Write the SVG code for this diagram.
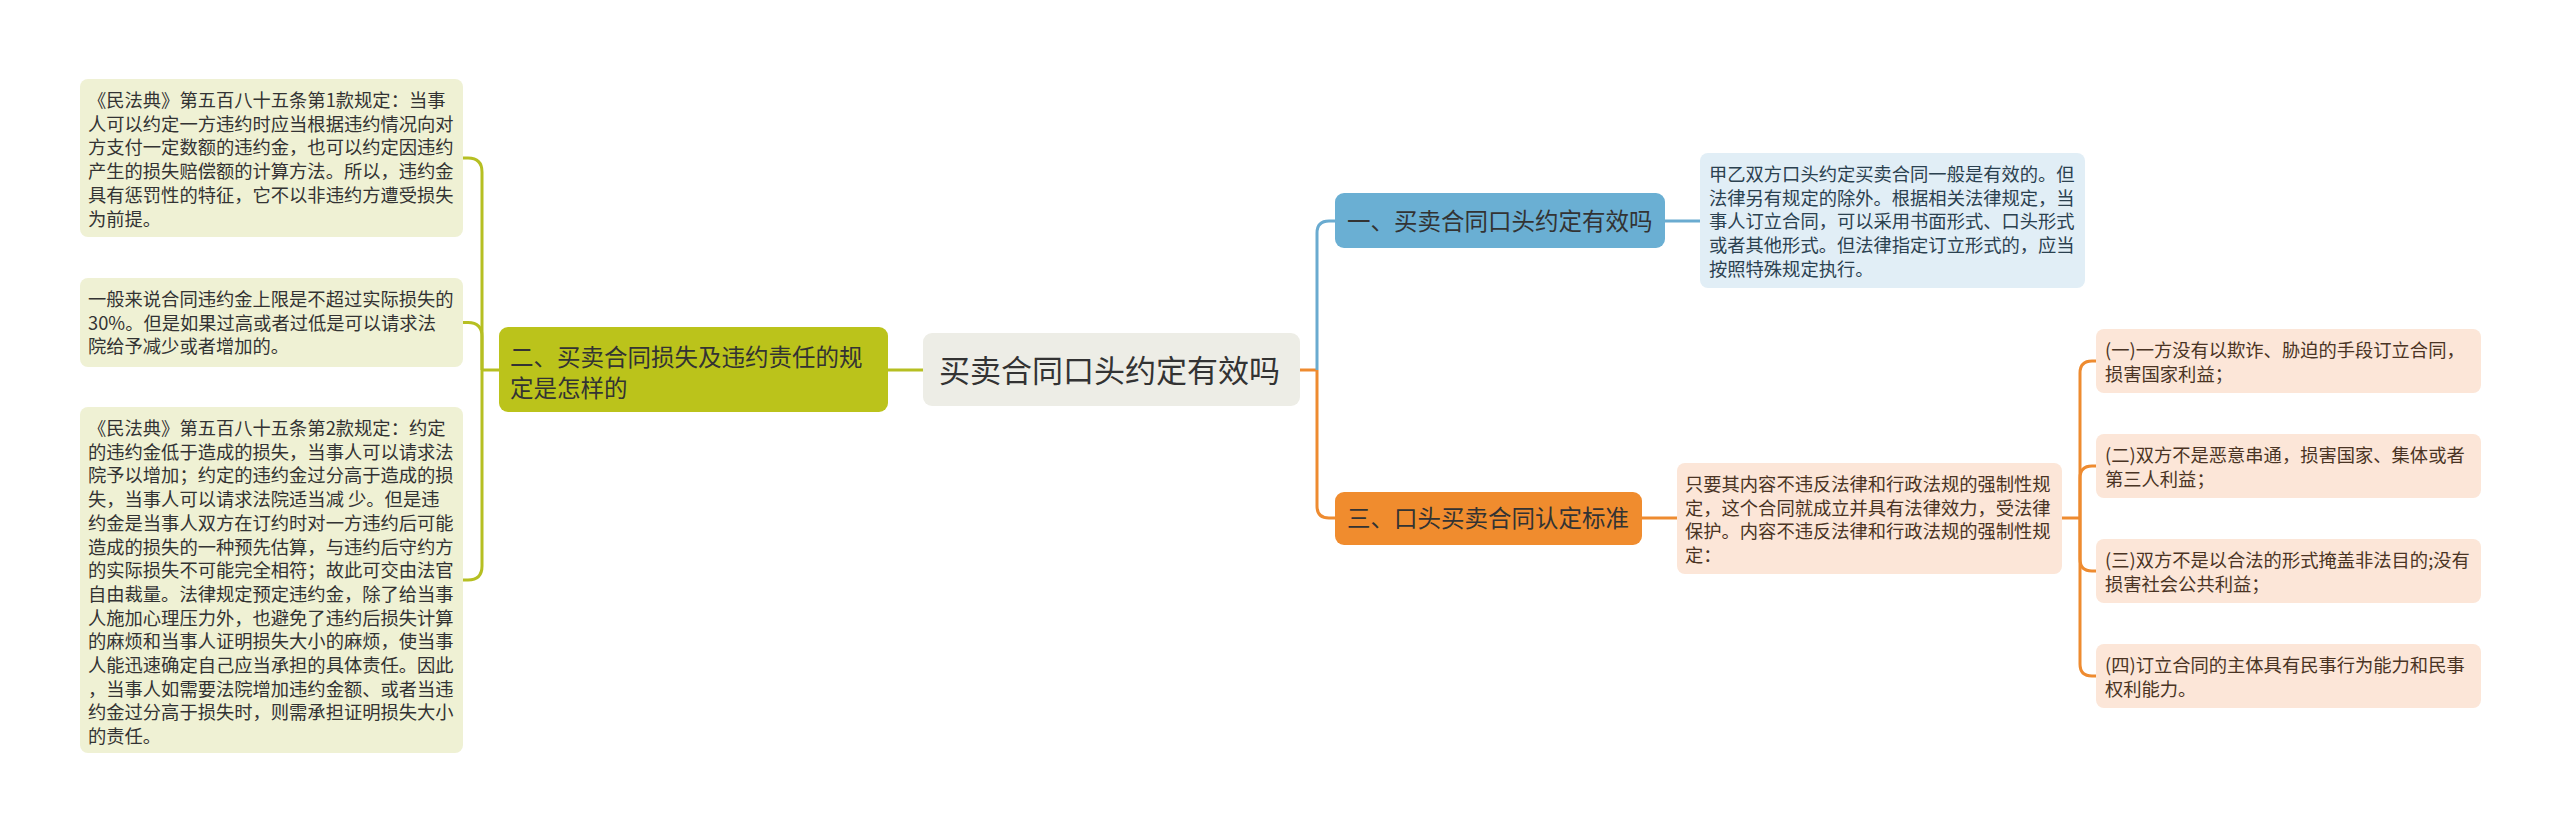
<svg xmlns="http://www.w3.org/2000/svg" width="2560" height="834" viewBox="0 0 2560 834">
<style>
text{font-family:"Noto Sans CJK SC","Noto Sans",sans-serif;fill:#333}
.leaf{font-size:18.3px}
.br{font-size:23.5px}
.root{font-size:31px}
.lg{fill:#EFF1D4}
.lb{fill:#E1EEF6}
.lo{fill:#FCE6D8}
.cg{fill:none;stroke:#B6BF22;stroke-width:3}
.cb{fill:none;stroke:#6AABD0;stroke-width:3}
.co{fill:none;stroke:#EE8B30;stroke-width:3}
.tb{fill:#2b4150}
.to{fill:#4a3424}
</style>
<rect width="2560" height="834" fill="#ffffff"/>
<g id="connectors">
<path class="cg" d="M923 370H888"/>
<path class="cg" d="M499 370H482"/>
<path class="cg" d="M482 370V172Q482 158 468 158H463"/>
<path class="cg" d="M482 370V336.5Q482 322.5 468 322.5H463"/>
<path class="cg" d="M482 370V566Q482 580 468 580H463"/>
<path class="co" d="M1300 370H1317"/>
<path class="cb" d="M1317 370V233Q1317 221 1329 221H1335"/>
<path class="co" d="M1317 370V506Q1317 518 1329 518H1335"/>
<path class="cb" d="M1665 221H1700"/>
<path class="co" d="M1642 518H1677"/>
<path class="co" d="M2062 518H2080"/>
<path class="co" d="M2080 518V373Q2080 361 2092 361H2096"/>
<path class="co" d="M2080 518V478Q2080 466 2092 466H2096"/>
<path class="co" d="M2080 518V559Q2080 571 2092 571H2096"/>
<path class="co" d="M2080 518V664Q2080 676 2092 676H2096"/>
</g>
<g id="root">
<rect x="923" y="333" width="377" height="73" rx="9" fill="#EDEDE6"/>
<text class="root" x="939" y="381.5">买卖合同口头约定有效吗</text>
</g>
<g id="branch2">
<rect x="499" y="327" width="389" height="85" rx="9" fill="#BBC31B"/>
<text class="br" x="510" y="365.5">二、买卖合同损失及违约责任的规<tspan x="510" dy="31">定是怎样的</tspan></text>
</g>
<g id="leaf2a">
<rect class="lg" x="80" y="79" width="383" height="158" rx="8"/>
<text class="leaf" x="88" y="107">《民法典》第五百八十五条第1款规定：当事<tspan x="88" dy="23.7">人可以约定一方违约时应当根据违约情况向对</tspan><tspan x="88" dy="23.7">方支付一定数额的违约金，也可以约定因违约</tspan><tspan x="88" dy="23.7">产生的损失赔偿额的计算方法。所以，违约金</tspan><tspan x="88" dy="23.7">具有惩罚性的特征，它不以非违约方遭受损失</tspan><tspan x="88" dy="23.7">为前提。</tspan></text>
</g>
<g id="leaf2b">
<rect class="lg" x="80" y="278" width="383" height="89" rx="8"/>
<text class="leaf" x="88" y="306">一般来说合同违约金上限是不超过实际损失的<tspan x="88" dy="23.7">30%。但是如果过高或者过低是可以请求法</tspan><tspan x="88" dy="23.7">院给予减少或者增加的。</tspan></text>
</g>
<g id="leaf2c">
<rect class="lg" x="80" y="407" width="383" height="346" rx="8"/>
<text class="leaf" x="88" y="435">《民法典》第五百八十五条第2款规定：约定<tspan x="88" dy="23.7">的违约金低于造成的损失，当事人可以请求法</tspan><tspan x="88" dy="23.7">院予以增加；约定的违约金过分高于造成的损</tspan><tspan x="88" dy="23.7">失，当事人可以请求法院适当减 少。但是违</tspan><tspan x="88" dy="23.7">约金是当事人双方在订约时对一方违约后可能</tspan><tspan x="88" dy="23.7">造成的损失的一种预先估算，与违约后守约方</tspan><tspan x="88" dy="23.7">的实际损失不可能完全相符；故此可交由法官</tspan><tspan x="88" dy="23.7">自由裁量。法律规定预定违约金，除了给当事</tspan><tspan x="88" dy="23.7">人施加心理压力外，也避免了违约后损失计算</tspan><tspan x="88" dy="23.7">的麻烦和当事人证明损失大小的麻烦，使当事</tspan><tspan x="88" dy="23.7">人能迅速确定自己应当承担的具体责任。因此</tspan><tspan x="88" dy="23.7">，当事人如需要法院增加违约金额、或者当违</tspan><tspan x="88" dy="23.7">约金过分高于损失时，则需承担证明损失大小</tspan><tspan x="88" dy="23.7">的责任。</tspan></text>
</g>
<g id="branch1">
<rect x="1335" y="193" width="330" height="55" rx="9" fill="#6AAFD3"/>
<text class="br" x="1347" y="229.5">一、买卖合同口头约定有效吗</text>
</g>
<g id="leaf1">
<rect class="lb" x="1700" y="153" width="385" height="135" rx="8"/>
<text class="leaf tb" x="1709" y="181">甲乙双方口头约定买卖合同一般是有效的。但<tspan x="1709" dy="23.7">法律另有规定的除外。根据相关法律规定，当</tspan><tspan x="1709" dy="23.7">事人订立合同，可以采用书面形式、口头形式</tspan><tspan x="1709" dy="23.7">或者其他形式。但法律指定订立形式的，应当</tspan><tspan x="1709" dy="23.7">按照特殊规定执行。</tspan></text>
</g>
<g id="branch3">
<rect x="1335" y="492" width="307" height="53" rx="9" fill="#F08C2E"/>
<text class="br" x="1347" y="527">三、口头买卖合同认定标准</text>
</g>
<g id="leaf3">
<rect class="lo" x="1677" y="463" width="385" height="111" rx="8"/>
<text class="leaf to" x="1685" y="491">只要其内容不违反法律和行政法规的强制性规<tspan x="1685" dy="23.7">定，这个合同就成立并具有法律效力，受法律</tspan><tspan x="1685" dy="23.7">保护。内容不违反法律和行政法规的强制性规</tspan><tspan x="1685" dy="23.7">定：</tspan></text>
</g>
<g id="leaf3a">
<rect class="lo" x="2096" y="329" width="385" height="64" rx="8"/>
<text class="leaf to" x="2105" y="357">(一)一方没有以欺诈、胁迫的手段订立合同，<tspan x="2105" dy="23.7">损害国家利益；</tspan></text>
</g>
<g id="leaf3b">
<rect class="lo" x="2096" y="434" width="385" height="64" rx="8"/>
<text class="leaf to" x="2105" y="462">(二)双方不是恶意串通，损害国家、集体或者<tspan x="2105" dy="23.7">第三人利益；</tspan></text>
</g>
<g id="leaf3c">
<rect class="lo" x="2096" y="539" width="385" height="64" rx="8"/>
<text class="leaf to" x="2105" y="567">(三)双方不是以合法的形式掩盖非法目的;没有<tspan x="2105" dy="23.7">损害社会公共利益；</tspan></text>
</g>
<g id="leaf3d">
<rect class="lo" x="2096" y="644" width="385" height="64" rx="8"/>
<text class="leaf to" x="2105" y="672">(四)订立合同的主体具有民事行为能力和民事<tspan x="2105" dy="23.7">权利能力。</tspan></text>
</g>
</svg>
